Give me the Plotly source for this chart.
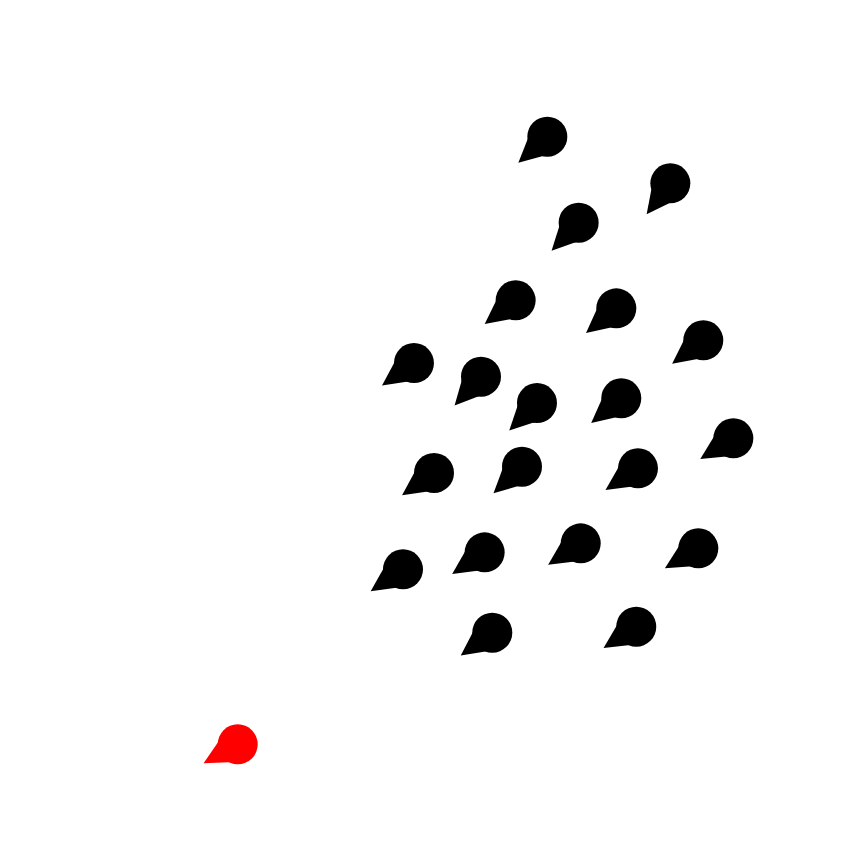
import plotly.graph_objects as go

# Black points (x, y in data units 0-100)
black_x = [63.94, 78.31, 67.60, 60.24, 72.00, 82.16, 48.36, 56.19, 62.73, 72.58,
           85.67, 50.70, 60.98, 74.53, 47.08, 56.62, 67.84, 81.58, 57.51, 74.33]
black_y = [83.90, 78.41, 73.77, 64.63, 63.68, 59.92, 57.24, 55.63, 52.53, 53.09,
           48.37, 44.29, 45.03, 44.84, 32.94, 34.94, 36.00, 35.42, 25.48, 26.18]
# tail direction: degrees below horizontal, pointing left
black_dir = [42, 52.6, 46, 37.5, 39, 37, 35, 47.4, 44.7, 39.5,
             32, 35, 43, 33.6, 34, 33.6, 33.4, 31, 36, 33]
red_x = [27.77]
red_y = [12.33]
red_dir = [29]

CIRCLE_SIZE = 40
TAIL_SIZE = 40
TAIL_STANDOFF = 11

fig = go.Figure()

def add_pins(xs, ys, dirs, color):
    angles = [90 - d for d in dirs]
    fig.add_trace(go.Scatter(
        x=xs, y=ys, mode="markers", hoverinfo="skip",
        marker=dict(symbol="diamond-tall", size=TAIL_SIZE, color=color,
                    angle=angles, standoff=TAIL_STANDOFF,
                    line=dict(width=0)),
        showlegend=False))
    fig.add_trace(go.Scatter(
        x=xs, y=ys, mode="markers",
        marker=dict(symbol="circle", size=CIRCLE_SIZE, color=color,
                    line=dict(width=0)),
        showlegend=False))

add_pins(black_x, black_y, black_dir, "black")
add_pins(red_x, red_y, red_dir, "red")

fig.update_layout(
    width=856, height=849,
    margin=dict(l=0, r=0, t=0, b=0),
    paper_bgcolor="white", plot_bgcolor="white",
    xaxis=dict(range=[0, 100], visible=False, fixedrange=True),
    yaxis=dict(range=[0, 100], visible=False, fixedrange=True),
)

fig.write_html("out.html")
